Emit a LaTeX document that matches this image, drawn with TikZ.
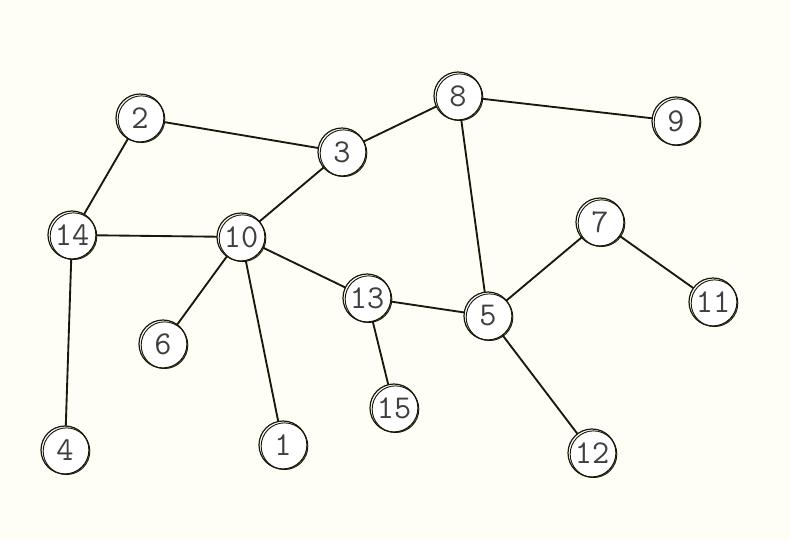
\documentclass[tikz,border=0pt]{standalone}
\definecolor{bgc}{RGB}{254,254,246}
\definecolor{inkc}{RGB}{25,25,10}
\begin{document}
\begin{tikzpicture}[x=0.75pt,y=-0.75pt,
  vtx/.style={circle,draw=inkc,fill=white,line width=0.9pt,minimum size=36pt,inner sep=0pt,
    font=\ttfamily\fontsize{25}{25}\selectfont,text=black!75,
    append after command={
      (\tikzlastnode.center) ++(1.5,1.2) node[circle,draw=inkc,line width=0.7pt,minimum size=35pt,inner sep=0pt]{} }},
  edge/.style={draw=inkc,line width=1.4pt}]
\fill[bgc] (0,0) rectangle (790,540);
\useasboundingbox (0,0) rectangle (790,540);
\coordinate (p1) at (283,445);
\coordinate (p2) at (140,118);
\coordinate (p3) at (342,152);
\coordinate (p4) at (65,450);
\coordinate (p5) at (488,316);
\coordinate (p6) at (163,344);
\coordinate (p7) at (600,222);
\coordinate (p8) at (458,96);
\coordinate (p9) at (676,121);
\coordinate (p10) at (241,237);
\coordinate (p11) at (713,302);
\coordinate (p12) at (592,453);
\coordinate (p13) at (367,298);
\coordinate (p14) at (72,235);
\coordinate (p15) at (394,408);
\foreach \a/\b in {2/3,2/14,3/8,3/10,8/9,8/5,14/10,14/4,10/6,10/1,10/13,13/5,13/15,5/7,5/12,7/11}
  \draw[edge] (p\a) -- (p\b);
\foreach \i in {1,...,15}
  \node[vtx] (n\i) at (p\i) {\i};
\end{tikzpicture}
\end{document}
